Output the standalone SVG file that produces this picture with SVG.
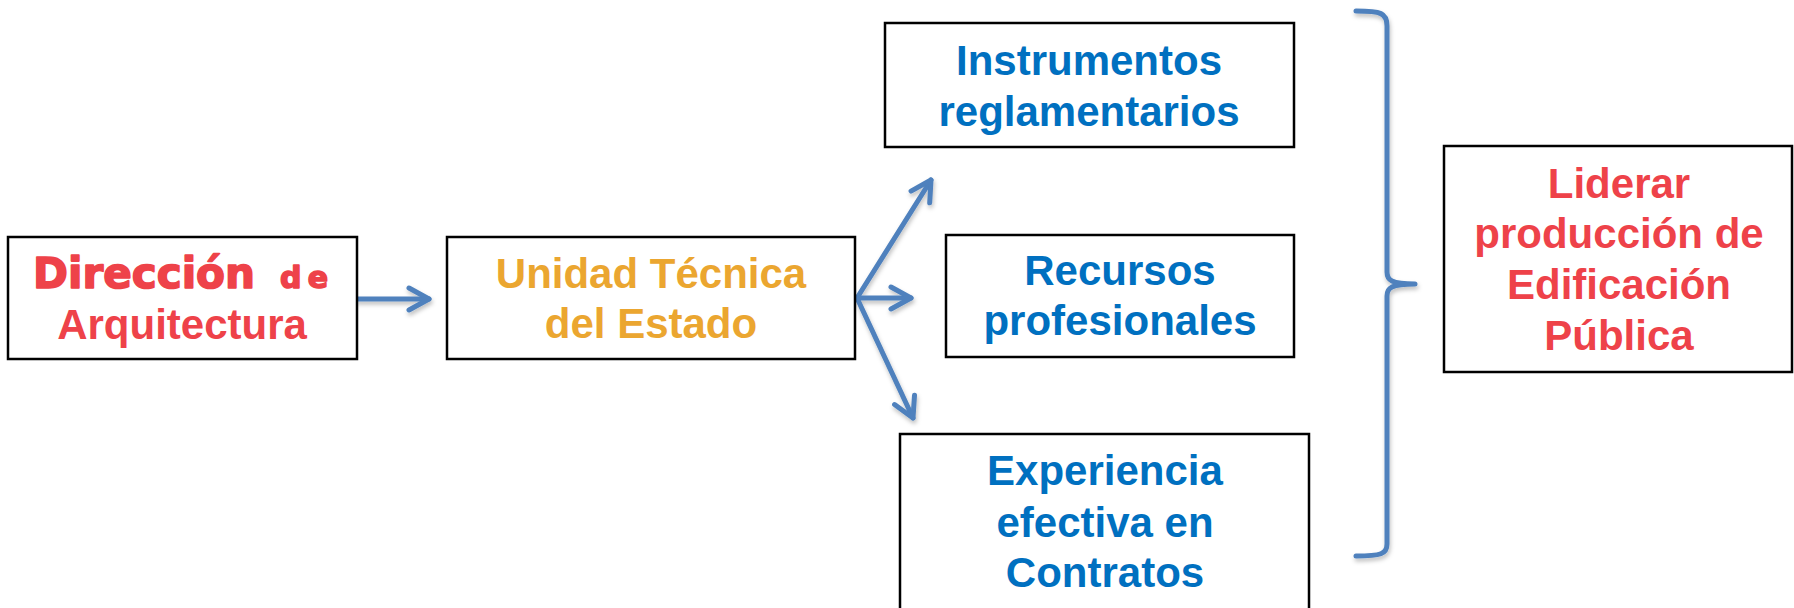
<svg xmlns="http://www.w3.org/2000/svg" width="1794" height="608" viewBox="0 0 1794 608">
  <style>
    .box { fill: #ffffff; stroke: #000000; stroke-width: 2.5; }
    .t { font-family: "Liberation Sans", Arial, sans-serif; font-weight: bold; font-size: 42px; text-anchor: middle; }
    .red { fill: #EE4249; }
    .orange { fill: #EBA630; }
    .blue { fill: #0070C0; }
    .heavy { font-family: "DejaVu Sans", sans-serif; font-weight: bold; stroke: #EE4249; stroke-width: 1.6; stroke-linejoin: round; }
    .conn { fill: none; stroke: #4F81BD; stroke-width: 5; stroke-linecap: round; stroke-linejoin: round; }
  </style>
  <defs>
    <filter id="sh" x="-20%" y="-20%" width="140%" height="140%">
      <feDropShadow dx="1" dy="3" stdDeviation="2" flood-color="#000000" flood-opacity="0.25"/>
    </filter>
    <marker id="arr" viewBox="-24 -14 28 28" refX="0" refY="0" markerWidth="28" markerHeight="28" markerUnits="userSpaceOnUse" orient="auto">
      <path d="M-20,-11 L0,0 L-20,11" fill="none" stroke="#4F81BD" stroke-width="5" stroke-linecap="round" stroke-linejoin="round"/>
    </marker>
  </defs>
  <rect width="1794" height="608" fill="#ffffff"/>

  <g id="connectors" filter="url(#sh)">
    <line class="conn" x1="357" y1="299" x2="429" y2="299" marker-end="url(#arr)"/>
    <line class="conn" x1="857" y1="298" x2="931" y2="180" marker-end="url(#arr)"/>
    <line class="conn" x1="857" y1="298" x2="911" y2="298" marker-end="url(#arr)"/>
    <line class="conn" x1="857" y1="298" x2="913" y2="418" marker-end="url(#arr)"/>
    <path class="conn" d="M1356,11 C1381,11 1387,13 1387,26 L1387,272 C1387,280 1391,284 1415,284 M1415,284 C1391,284 1387,288 1387,296 L1387,544 C1387,554 1381,556 1356,556"/>
  </g>

  <g id="direccion">
    <rect class="box" x="8" y="237" width="349" height="122"/>
    <text x="33" y="288" font-size="42" class="red heavy" textLength="222" lengthAdjust="spacingAndGlyphs">Dirección</text>
    <text x="280" y="288" font-size="30" class="red heavy" stroke-width="0.6" textLength="48" lengthAdjust="spacing">de</text>
    <text class="t red" x="182" y="339">Arquitectura</text>
  </g>

  <g id="unidad">
    <rect class="box" x="447" y="237" width="408" height="122"/>
    <text class="t orange" x="651" y="288">Unidad Técnica</text>
    <text class="t orange" x="651" y="338">del Estado</text>
  </g>

  <g id="instrumentos">
    <rect class="box" x="885" y="23" width="409" height="124"/>
    <text class="t blue" x="1089" y="75">Instrumentos</text>
    <text class="t blue" x="1089" y="126">reglamentarios</text>
  </g>

  <g id="recursos">
    <rect class="box" x="946" y="235" width="348" height="122"/>
    <text class="t blue" x="1120" y="285">Recursos</text>
    <text class="t blue" x="1120" y="335">profesionales</text>
  </g>

  <g id="experiencia">
    <rect class="box" x="900" y="434" width="409" height="190"/>
    <text class="t blue" x="1105" y="485">Experiencia</text>
    <text class="t blue" x="1105" y="537">efectiva en</text>
    <text class="t blue" x="1105" y="587">Contratos</text>
  </g>

  <g id="liderar">
    <rect class="box" x="1444" y="146" width="348" height="226"/>
    <text class="t red" x="1619" y="198">Liderar</text>
    <text class="t red" x="1619" y="248">producción de</text>
    <text class="t red" x="1619" y="299">Edificación</text>
    <text class="t red" x="1619" y="350">Pública</text>
  </g>
</svg>
